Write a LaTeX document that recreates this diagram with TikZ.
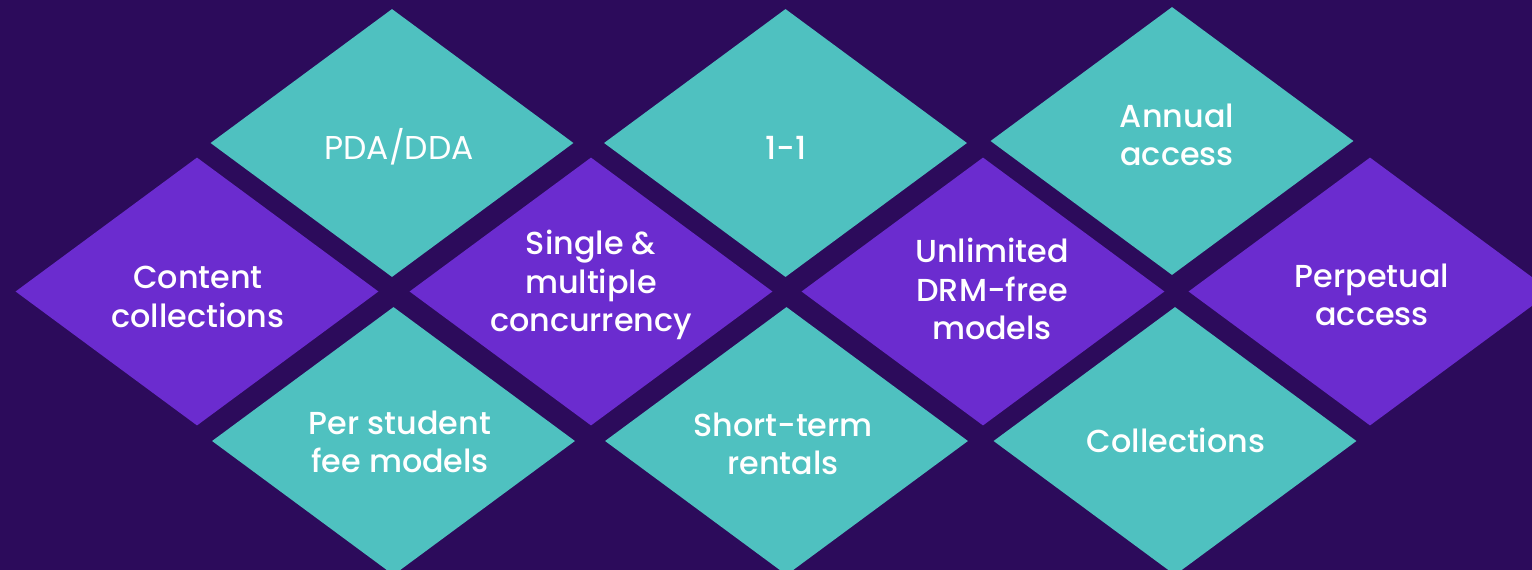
\documentclass[tikz,border=0pt]{standalone}
\usepackage{fontspec}
\setmainfont{Poppins}[UprightFont={* Medium}]
\newfontfamily\popreg{Poppins}
\usetikzlibrary{shapes.geometric}
\definecolor{bgpurple}{HTML}{2C0B5B}
\definecolor{tealc}{HTML}{4FC1C0}
\definecolor{purplec}{HTML}{6B2CCF}
\tikzset{
  tile/.style={diamond, minimum width=363pt, minimum height=268pt, inner sep=0pt, draw=none},
  tealtile/.style={tile, fill=tealc},
  purpletile/.style={tile, fill=purplec},
  lbl/.style={text=white, align=center, font=\fontsize{31.8}{38.5}\selectfont, inner sep=0pt},
  lblreg/.style={lbl, font=\popreg\fontsize{33}{38.5}\selectfont}
}
\begin{document}
\begin{tikzpicture}[x=1pt,y=-1pt]
\fill[bgpurple] (0,0) rectangle (1532,570);
\useasboundingbox (0,0) rectangle (1532,570);
% top row teal
\node[tealtile] (pda) at (392,143) {};
\node[tealtile] (one) at (785.5,143) {};
\node[tealtile] (annual) at (1172,141) {};
% middle row purple
\node[purpletile] (content) at (197,291.5) {};
\node[purpletile] (single) at (591,291.5) {};
\node[purpletile] (unlimited) at (983,291.5) {};
\node[purpletile] (perpetual) at (1370,291.5) {};
% bottom row teal
\node[tealtile] (perstudent) at (393.5,441) {};
\node[tealtile] (shortterm) at (786.5,441) {};
\node[tealtile] (collections) at (1175,441) {};
% labels
\node[lblreg] (tpda) at (399,147) {PDA/DDA};
\node[lbl] (tone) at (786,148) {1-1};
\node[lbl] (tannual) at (1177,135) {Annual\\access};
\node[lbl] (tcontent) at (198,297) {Content\\collections};
\node[lbl] (tsingle) at (591,285) {Single \&\\multiple\\concurrency};
\node[lbl] (tunlimited) at (992,289) {Unlimited\\DRM-free\\models};
\node[lbl] (tperpetual) at (1372,295) {Perpetual\\access};
\node[lbl] (tperstudent) at (400,442) {Per student\\fee models};
\node[lbl] (tshortterm) at (783,444) {Short-term\\rentals};
\node[lbl] (tcollections) at (1176,440) {Collections};
\end{tikzpicture}
\end{document}
